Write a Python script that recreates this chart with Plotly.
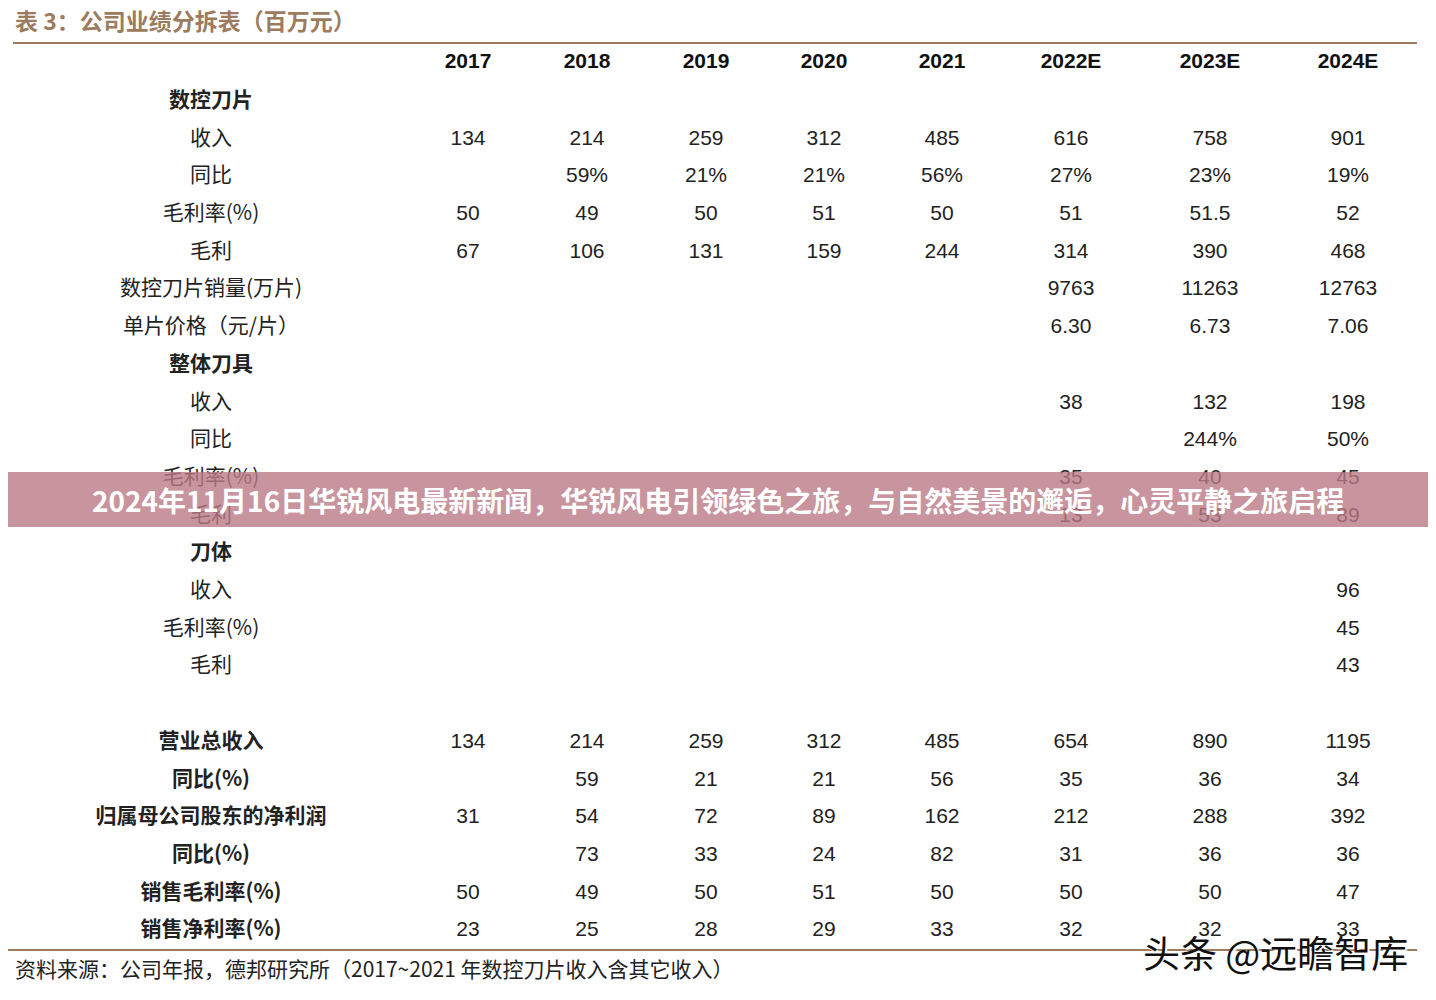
import plotly.graph_objects as go

# column headers
years = ["2017", "2018", "2019", "2020", "2021", "2022E", "2023E", "2024E"]

# row labels (bold ones are section headers / totals)
row_labels = [
    "数控刀片", "收入", "同比", "毛利率(%)", "毛利", "数控刀片销量(万片)", "单片价格（元/片）",
    "整体刀具", "收入", "同比", "毛利率(%)", "毛利",
    "刀体", "收入", "毛利率(%)", "毛利",
    "",
    "营业总收入", "同比(%)", "归属母公司股东的净利润", "同比(%)", "销售毛利率(%)", "销售净利率(%)",
]
bold_rows = {"数控刀片", "整体刀具", "刀体", "营业总收入", "同比(%)", "归属母公司股东的净利润",
             "销售毛利率(%)", "销售净利率(%)"}

# values per row, one entry per year ("" = empty cell)
blade_header = [""] * 8
blade_rev = ["134", "214", "259", "312", "485", "616", "758", "901"]
blade_yoy = ["", "59%", "21%", "21%", "56%", "27%", "23%", "19%"]
blade_gm_pct = ["50", "49", "50", "51", "50", "51", "51.5", "52"]
blade_gp = ["67", "106", "131", "159", "244", "314", "390", "468"]
blade_volume = ["", "", "", "", "", "9763", "11263", "12763"]
blade_price = ["", "", "", "", "", "6.30", "6.73", "7.06"]
tool_header = [""] * 8
tool_rev = ["", "", "", "", "", "38", "132", "198"]
tool_yoy = ["", "", "", "", "", "", "244%", "50%"]
tool_gm_pct = ["", "", "", "", "", "35", "40", "45"]
tool_gp = ["", "", "", "", "", "13", "53", "89"]
body_header = [""] * 8
body_rev = ["", "", "", "", "", "", "", "96"]
body_gm_pct = ["", "", "", "", "", "", "", "45"]
body_gp = ["", "", "", "", "", "", "", "43"]
blank_row = [""] * 8
total_rev = ["134", "214", "259", "312", "485", "654", "890", "1195"]
total_yoy = ["", "59", "21", "21", "56", "35", "36", "34"]
net_profit = ["31", "54", "72", "89", "162", "212", "288", "392"]
net_yoy = ["", "73", "33", "24", "82", "31", "36", "36"]
gross_margin = ["50", "49", "50", "51", "50", "50", "50", "47"]
net_margin = ["23", "25", "28", "29", "33", "32", "32", "33"]

rows = [blade_header, blade_rev, blade_yoy, blade_gm_pct, blade_gp, blade_volume, blade_price,
        tool_header, tool_rev, tool_yoy, tool_gm_pct, tool_gp,
        body_header, body_rev, body_gm_pct, body_gp,
        blank_row,
        total_rev, total_yoy, net_profit, net_yoy, gross_margin, net_margin]

title = "表 3：公司业绩分拆表（百万元）"
source = "资料来源：公司年报，德邦研究所（2017~2021 年数控刀片收入含其它收入）"
banner = "2024年11月16日华锐风电最新新闻，华锐风电引领绿色之旅，与自然美景的邂逅，心灵平静之旅启程"
watermark = "头条 @远瞻智库"

# layout geometry (pixels); page body has an 8px margin, so the ranges are shifted
W, H = 1436, 1000
OFF = 8
col_x = [468, 587, 706, 824, 942, 1071, 1210, 1348]
label_x = 211
header_y = 63
row_step = 37.7
row_y = [header_y + 1 + row_step * (i + 1) for i in range(len(rows))]

CJK = "Noto Sans CJK SC"
NUM = "Liberation Sans, Arial, sans-serif"
BROWN = "#9c7b5e"

fig = go.Figure()

# header
fig.add_trace(go.Scatter(
    x=col_x, y=[header_y] * len(years), mode="text",
    text=[f"<b>{y}</b>" for y in years],
    textfont=dict(family=NUM, size=21, color="#111111"),
    hoverinfo="skip",
))

# row labels
fig.add_trace(go.Scatter(
    x=[label_x] * len(row_labels), y=row_y, mode="text",
    text=[f"<b>{t}</b>" if t in bold_rows else t for t in row_labels],
    textfont=dict(family=CJK, size=21, color="#222222"),
    hoverinfo="skip",
))

# values, one trace per year column
for j, yr in enumerate(years):
    fig.add_trace(go.Scatter(
        x=[col_x[j]] * len(rows), y=row_y, mode="text",
        text=[r[j] for r in rows],
        textfont=dict(family=NUM, size=21, color="#222222"),
        hoverinfo="skip", name=yr,
    ))

fig.add_shape(type="line", x0=13, x1=1417, y0=43, y1=43, line=dict(color=BROWN, width=2))
fig.add_shape(type="line", x0=8, x1=1417, y0=950, y1=950, line=dict(color=BROWN, width=2))

# banner overlay
fig.add_shape(type="rect", x0=0, x1=W + OFF, y0=472, y1=527, layer="above",
              fillcolor="rgba(186,122,134,0.80)", line=dict(width=0))

annotations = [
    dict(x=13, y=20, text=f"<b>{title}</b>", showarrow=False, xanchor="left", yanchor="middle",
         font=dict(family=CJK, size=23, color=BROWN)),
    dict(x=13, y=968, text=source, showarrow=False, xanchor="left", yanchor="middle",
         font=dict(family=CJK, size=21, color="#222222")),
    dict(x=W / 2, y=500, text=f"<b>{banner}</b>", showarrow=False, xanchor="center", yanchor="middle",
         font=dict(family=CJK, size=28, color="#ffffff")),
    dict(x=1410, y=952, text=watermark, showarrow=False, xanchor="right", yanchor="middle",
         font=dict(family=CJK, size=37, color="#111111", shadow="2px 2px 1px #ffffff")),
]

fig.update_layout(
    width=W, height=H,
    margin=dict(l=0, r=0, t=0, b=0),
    paper_bgcolor="#ffffff",
    plot_bgcolor="#ffffff",
    showlegend=False,
    xaxis=dict(range=[OFF, W + OFF], visible=False, fixedrange=True),
    yaxis=dict(range=[H + OFF, OFF], visible=False, fixedrange=True),
    annotations=annotations,
)

fig.write_html("out.html")
